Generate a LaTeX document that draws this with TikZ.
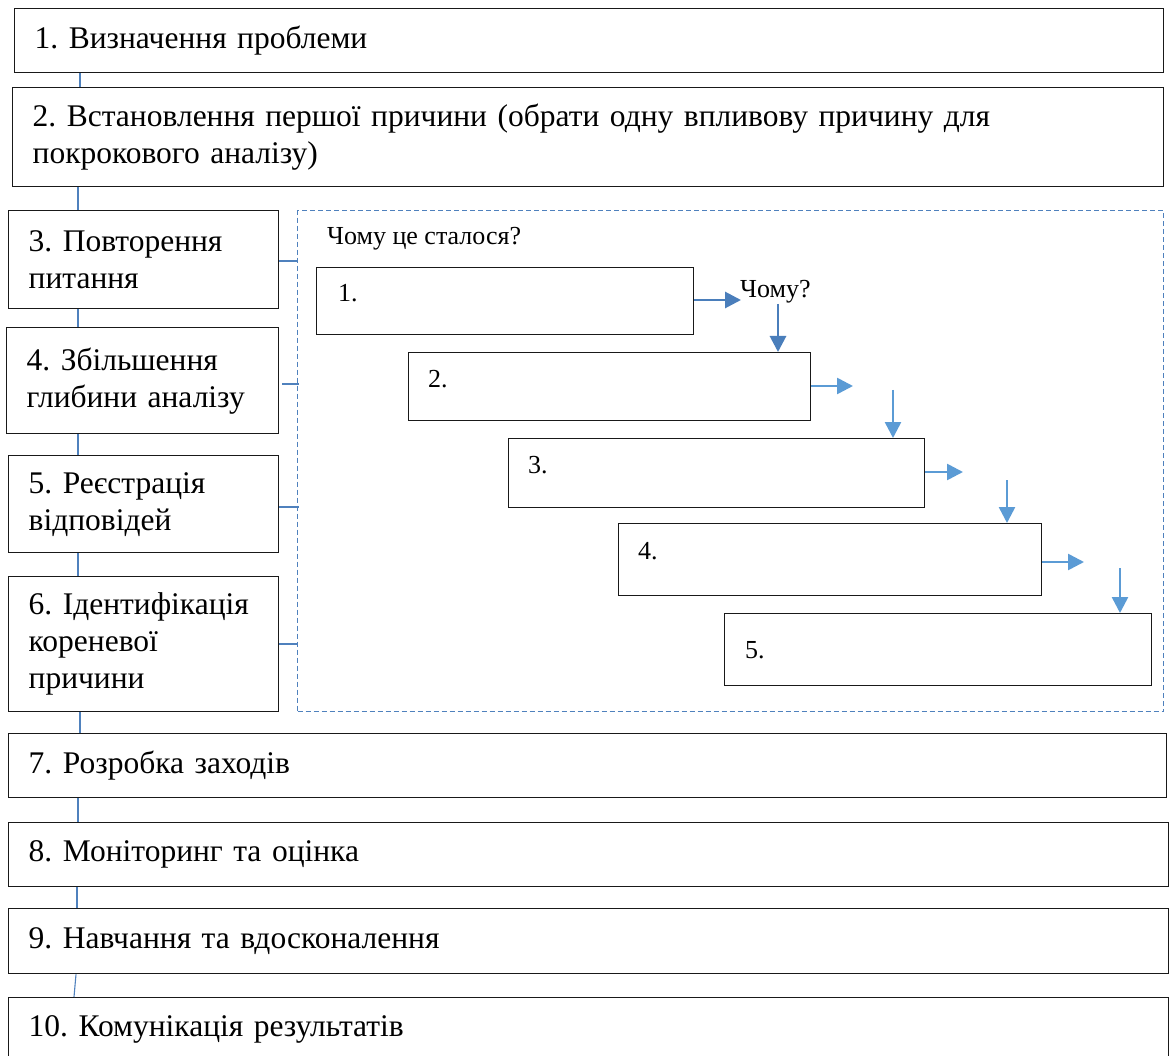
\documentclass[tikz,border=0pt]{standalone}
\usepackage{fontspec}
\setmainfont{Liberation Serif}
\usetikzlibrary{arrows.meta}
\definecolor{conblue}{HTML}{4F81BD}
\definecolor{arrblue}{HTML}{5B9BD5}
\definecolor{arrdark}{HTML}{4A7EBB}
\tikzset{
  box/.style={draw=black!90, line width=1.4pt, rectangle, anchor=north west, inner xsep=20pt, inner ysep=0pt, align=left, font=\fontsize{31.5}{37}\selectfont\frenchspacing},
  ibox/.style={draw=black!90, line width=1.3pt, rectangle, anchor=north west, inner sep=0pt},
  itext/.style={anchor=base west, inner sep=0pt, font=\fontsize{26}{30}\selectfont\frenchspacing},
  conn/.style={draw=conblue, line width=1.1pt},
  arr/.style={draw=arrblue, line width=2.6pt, -{Triangle[length=16pt,width=16pt]}},
  arrd/.style={draw=arrdark, line width=2.9pt, -{Triangle[length=16pt,width=16pt]}},
  dbox/.style={draw=conblue, line width=1.4pt, dash pattern=on 5pt off 3pt, rectangle, anchor=north west, inner sep=0pt}
}
\begin{document}
\begin{tikzpicture}[x=1pt,y=-1pt]
\useasboundingbox (0,0) rectangle (1170,1056);
\clip (0,0) rectangle (1170,1056);
\fill[white] (0,0) rectangle (1170,1056);

% main steps
\node[box, minimum width=1149pt, minimum height=64pt, text width=1109pt] (b1) at (14,8) {1. Визначення проблеми};
\node[box, minimum width=1151pt, minimum height=99pt, text width=1111pt] (b2) at (12,87) {2. Встановлення першої причини (обрати одну впливову причину для\\покрокового аналізу)};
\node[box, minimum width=270pt, minimum height=98pt, text width=230pt] (b3) at (8,210) {3. Повторення\\питання};
\node[box, minimum width=272pt, minimum height=106pt, text width=232pt] (b4) at (6,327) {4. Збільшення\\глибини аналізу};
\node[box, minimum width=270pt, minimum height=97pt, text width=230pt] (b5) at (8,455) {5. Реєстрація\\відповідей};
\node[box, minimum width=270pt, minimum height=135pt, text width=230pt] (b6) at (8,576) {6. Ідентифікація\\кореневої\\причини};
\node[box, minimum width=1158pt, minimum height=64pt, text width=1118pt] (b7) at (8,733) {7. Розробка заходів};
\node[box, minimum width=1160pt, minimum height=64pt, text width=1120pt] (b8) at (8,822) {8. Моніторинг та оцінка};
\node[box, minimum width=1160pt, minimum height=65pt, text width=1120pt] (b9) at (8,908) {9. Навчання та вдосконалення};
\node[box, minimum width=1160pt, minimum height=64pt, text width=1120pt] (b10) at (8,997) {10. Комунікація результатів};

% vertical connectors
\coordinate (x80) at (80,0);
\coordinate (x78) at (78,0);
\coordinate (x77) at (77,0);
\coordinate (x76) at (76,0);
\coordinate (x74) at (74,0);
\draw[conn] (b1.south -| x80) -- (b2.north -| x80);
\draw[conn] (b2.south -| x78) -- (b3.north -| x78);
\draw[conn] (b3.south -| x78) -- (b4.north -| x78);
\draw[conn] (b4.south -| x78) -- (b5.north -| x78);
\draw[conn] (b5.south -| x78) -- (b6.north -| x78);
\draw[conn] (b6.south -| x80) -- (b7.north -| x80);
\draw[conn] (b7.south -| x78) -- (b8.north -| x78);
\draw[conn] (b8.south -| x77) -- (b9.north -| x77);
\draw[conn] (b9.south -| x76) -- (b10.north -| x74);

% dashed region
\node[dbox, minimum width=866pt, minimum height=501pt] (db) at (297,210) {};
\node[itext] (q0) at (327,245) {Чому це сталося?};

% horizontal connectors to dashed region
\coordinate (y261) at (0,261);
\coordinate (y384) at (0,384);
\coordinate (y507) at (0,507);
\coordinate (y644) at (0,644);
\coordinate (x282) at (282,0);
\draw[conn] (b3.east |- y261) -- (db.west |- y261);
\draw[conn] (x282 |- y384) -- ([xshift=2pt]db.west |- y384);
\draw[conn] (b5.east |- y507) -- ([xshift=2pt]db.west |- y507);
\draw[conn] (b6.east |- y644) -- (db.west |- y644);

% why boxes
\node[ibox, minimum width=377pt, minimum height=67pt] (i1) at (316,267) {};
\node[ibox, minimum width=402pt, minimum height=68pt] (i2) at (408,352) {};
\node[ibox, minimum width=416pt, minimum height=69pt] (i3) at (508,438) {};
\node[ibox, minimum width=423pt, minimum height=72pt] (i4) at (618,523) {};
\node[ibox, minimum width=427pt, minimum height=72pt] (i5) at (724,613) {};
\node[itext] (t1) at (338,302) {1.};
\node[itext] (t2) at (428,388) {2.};
\node[itext] (t3) at (528,473) {3.};
\node[itext] (t4) at (638,559) {4.};
\node[itext] (t5) at (745,658) {5.};

\node[itext] (q1) at (740,298) {Чому?};

% arrows
\coordinate (h1) at (741,300);
\coordinate (h2) at (853,386);
\coordinate (h3) at (963,472);
\coordinate (h4) at (1084,562);
\coordinate (s1) at (778,304);
\coordinate (s2) at (893,390);
\coordinate (s3) at (1007,480);
\coordinate (s4) at (1120,568);
\draw[arrd] (i1.east |- h1) -- (h1);
\draw[arrd] (s1) -- (s1 |- i2.north);
\draw[arr] (i2.east |- h2) -- (h2);
\draw[arr] (s2) -- (s2 |- i3.north);
\draw[arr] (i3.east |- h3) -- (h3);
\draw[arr] (s3) -- (s3 |- i4.north);
\draw[arr] (i4.east |- h4) -- (h4);
\draw[arr] (s4) -- (s4 |- i5.north);
\end{tikzpicture}
\end{document}
